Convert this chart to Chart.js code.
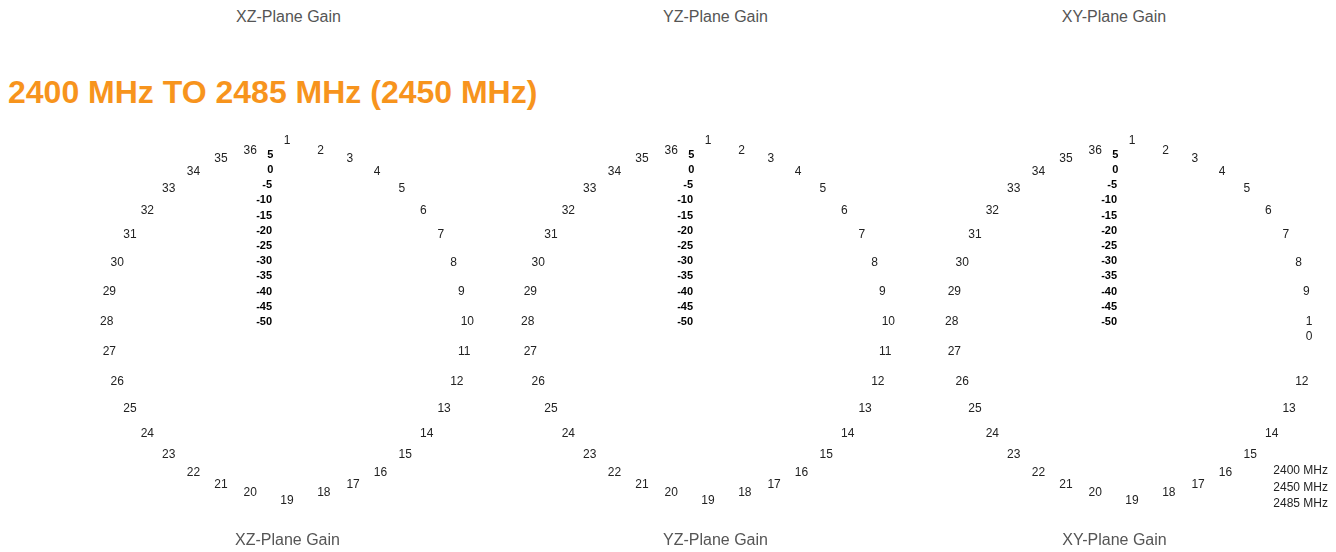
<!DOCTYPE html>
<html>
<head>
<meta charset="utf-8">
<script src="https://cdn.jsdelivr.net/npm/chart.js@4.4.1/dist/chart.umd.min.js"></script>
<style>
  html, body { margin: 0; padding: 0; background: #fff; width: 1336px; height: 552px; overflow: hidden; position: relative; font-family: Arial, 'Liberation Sans', sans-serif; }
  .toptitle { position: absolute; top: 7px; width: 300px; text-align: center; font-size: 16px; line-height: 19.2px; color: #555; white-space: nowrap; }
  h2 { position: absolute; left: 8px; top: 76px; margin: 0; font-size: 32px; line-height: 32px; font-weight: bold; color: #F7941D; white-space: nowrap; }
  canvas { position: absolute; }
  #legend3 { position: absolute; right: 8px; top: 462px; font-size: 12px; line-height: 16.5px; color: #222; text-align: right; white-space: nowrap; }
</style>
</head>
<body>
<div class="toptitle" id="tt0"></div>
<div class="toptitle" id="tt1"></div>
<div class="toptitle" id="tt2"></div>
<h2 id="band"></h2>
<canvas id="c0" width="375" height="438" style="left:100px;top:120px"></canvas>
<canvas id="c1" width="389" height="438" style="left:521px;top:120px"></canvas>
<canvas id="c2" width="405" height="438" style="left:912px;top:120px"></canvas>
<div id="legend3"></div>
<script>
// ---- data ----
const bandTitle = '2400 MHz TO 2485 MHz (2450 MHz)';
const planeTitles = ['XZ-Plane Gain', 'YZ-Plane Gain', 'XY-Plane Gain'];
const seriesNames = ['2400 MHz', '2450 MHz', '2485 MHz'];
const angleLabels = ['1','2','3','4','5','6','7','8','9','10','11','12','13','14','15','16','17','18',
                     '19','20','21','22','23','24','25','26','27','28','29','30','31','32','33','34','35','36'];
// XY plot shows label 10 wrapped and label 11 dropped
const xyAngleLabels = ['1','2','3','4','5','6','7','8','9',['', '1', '0'],'','12','13','14','15','16','17','18',
                       '19','20','21','22','23','24','25','26','27','28','29','30','31','32','33','34','35','36'];
const gainTicks = [5, 0, -5, -10, -15, -20, -25, -30, -35, -40, -45, -50];
// no traces are visible in the reference
const xz2400 = [], xz2450 = [], xz2485 = [];
const yz2400 = [], yz2450 = [], yz2485 = [];
const xy2400 = [], xy2450 = [], xy2485 = [];
const seriesColors = ['#1f77b4', '#2ca02c', '#d62728'];

// ---- static texts ----
document.getElementById('band').textContent = bandTitle;
const topCenters = [288.5, 715.5, 1114];
planeTitles.forEach((t, i) => {
  const el = document.getElementById('tt' + i);
  el.textContent = t;
  el.style.left = (topCenters[i] - 150) + 'px';
});

Chart.defaults.font.family = "Arial, 'Liberation Sans', sans-serif";

const measureCtx = document.createElement('canvas').getContext('2d');
measureCtx.font = "bold 11px Arial, 'Liberation Sans', sans-serif";
const spaceW = measureCtx.measureText(' ').width;
function padTick(value) {
  const s = String(value);
  const n = Math.round((measureCtx.measureText(s).width + 29) / spaceW);
  return s + ' '.repeat(Math.max(n, 0));
}

const htmlLegend = {
  id: 'htmlLegend',
  afterUpdate(chart, args, opts) {
    if (!opts || !opts.containerID) return;
    const box = document.getElementById(opts.containerID);
    box.innerHTML = '';
    const items = chart.options.plugins.legend.labels.generateLabels(chart);
    items.forEach(item => {
      const d = document.createElement('div');
      d.textContent = item.text;
      box.appendChild(d);
    });
  }
};

function makeChart(id, title, labels, series, extraScale, legendId) {
  const scales = {
    r: {
      min: Math.min(...gainTicks),
      max: Math.max(...gainTicks),
      grid: { display: false },
      angleLines: { display: false },
      ticks: {
        stepSize: 5,
        color: '#000',
        font: { size: 11, weight: 'bold' },
        showLabelBackdrop: false,
        backdropPadding: { top: -5, bottom: -5, left: 0, right: 0 },
        callback: (v) => padTick(v)
      },
      pointLabels: {
        color: '#222',
        font: (ctx) => ({ size: 12, lineHeight: Array.isArray(labels[ctx.index]) ? 1.2 : 0.001 }),
        padding: (ctx) => ctx.index === 0 ? 14 : (ctx.index === 18 ? 11 : 6)
      }
    }
  };
  if (extraScale) {
    scales.pad = {
      type: 'linear', position: extraScale.position, display: true,
      ticks: { display: false }, grid: { display: false }, border: { display: false },
      afterFit: (s) => { s.width = extraScale.width; }
    };
  }
  return new Chart(document.getElementById(id), {
    type: 'radar',
    data: {
      labels: labels,
      datasets: series.map((d, i) => ({
        label: seriesNames[i], data: d,
        borderColor: seriesColors[i], backgroundColor: 'transparent',
        borderWidth: 1.5, pointRadius: 0
      }))
    },
    options: {
      responsive: false,
      animation: false,
      layout: { padding: 0 },
      plugins: {
        legend: { display: false },
        tooltip: { enabled: false },
        title: {
          display: true, position: 'bottom', text: title,
          color: '#555', font: { size: 16, weight: 'normal' },
          padding: { top: 5, bottom: 8 }
        },
        htmlLegend: legendId ? { containerID: legendId } : {}
      },
      scales: scales
    },
    plugins: [htmlLegend]
  });
}

makeChart('c0', planeTitles[0], angleLabels, [xz2400, xz2450, xz2485], null, null);
makeChart('c1', planeTitles[1], angleLabels, [yz2400, yz2450, yz2485], { position: 'right', width: 14 }, null);
makeChart('c2', planeTitles[2], xyAngleLabels, [xy2400, xy2450, xy2485], { position: 'left', width: 30 }, 'legend3');
</script>
</body>
</html>
